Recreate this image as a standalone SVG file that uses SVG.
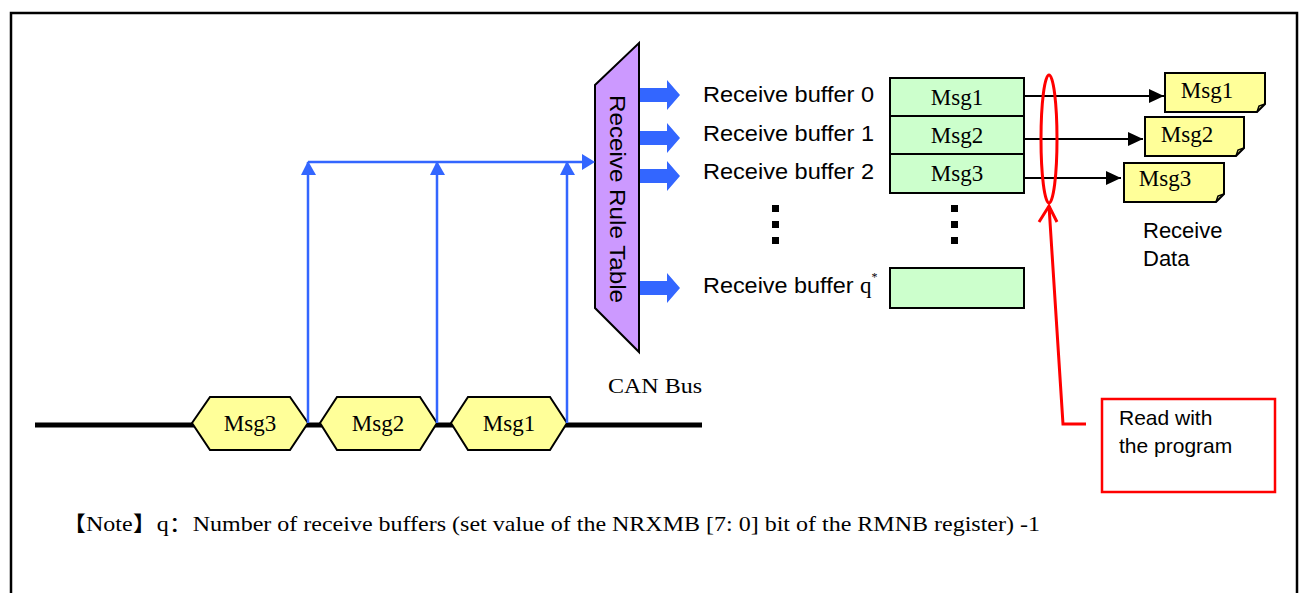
<svg xmlns="http://www.w3.org/2000/svg" width="1300" height="593" viewBox="0 0 1300 593">
<defs>
<style>
.sans{font-family:"Liberation Sans",Arial,sans-serif;fill:#000}
.serif{font-family:"Liberation Serif","Times New Roman",serif;fill:#000}
.blue{stroke:#3366FF;stroke-width:2.5;fill:none}
.bluefill{fill:#3366FF}
.blk{stroke:#000;stroke-width:2;fill:none}
.red{stroke:#FF0000;stroke-width:3;fill:none}
.green{fill:#CCFFCC;stroke:#000;stroke-width:2}
.yellow{fill:#FFFF99;stroke:#000;stroke-width:2}
</style>
<marker id="bk" markerWidth="16" markerHeight="14" refX="15" refY="7" orient="auto" markerUnits="userSpaceOnUse">
<path d="M0,0 L15,7 L0,14 Z" fill="#000"/>
</marker>
</defs>
<rect x="0" y="0" width="1300" height="593" fill="#fff"/>
<rect x="11" y="13" width="1286" height="600" fill="none" stroke="#000" stroke-width="2.5"/>

<g id="can-bus">
<line x1="35" y1="425" x2="702" y2="425" stroke="#000" stroke-width="5"/>
<text class="serif" x="608" y="393" font-size="22" textLength="94" lengthAdjust="spacingAndGlyphs">CAN Bus</text>
</g>

<g id="bus-msg3">
<polygon class="yellow" points="192,423 210,397 290,397 308,423 290,450 210,450"/>
<text class="serif" x="250" y="431" font-size="23" text-anchor="middle">Msg3</text>
</g>
<g id="bus-msg2">
<polygon class="yellow" points="320,423 337,397 420,397 437,423 420,450 337,450"/>
<text class="serif" x="378" y="431" font-size="23" text-anchor="middle">Msg2</text>
</g>
<g id="bus-msg1">
<polygon class="yellow" points="451,423 468,397 550,397 567,423 550,450 468,450"/>
<text class="serif" x="509" y="431" font-size="23" text-anchor="middle">Msg1</text>
</g>

<g id="rule-table">
<polygon points="595,85 639,43 639,352 595,308" fill="#CC99FF" stroke="#000" stroke-width="2"/>
<text class="sans" transform="translate(610,199) rotate(90)" font-size="22" text-anchor="middle" textLength="208" lengthAdjust="spacingAndGlyphs">Receive Rule Table</text>
</g>

<g id="connectors">
<g id="bus-to-table">
<line class="blue" x1="308" y1="423" x2="308" y2="162"/>
<line class="blue" x1="437" y1="423" x2="437" y2="162"/>
<line class="blue" x1="567" y1="423" x2="567" y2="162"/>
<line class="blue" x1="308" y1="162" x2="584" y2="162"/>
<polygon class="bluefill" points="308,161 301,175 316,175"/>
<polygon class="bluefill" points="437,161 430,175 445,175"/>
<polygon class="bluefill" points="567,161 560,175 575,175"/>
<polygon class="bluefill" points="595,162 582,154 582,170"/>
</g>
<g id="table-to-buffers">
<polygon class="bluefill" points="640,88 667,88 667,80 680,95 667,110 667,102 640,102"/>
<polygon class="bluefill" points="640,131 667,131 667,123 680,138 667,153 667,145 640,145"/>
<polygon class="bluefill" points="640,169 667,169 667,161 680,176 667,191 667,183 640,183"/>
<polygon class="bluefill" points="640,281 667,281 667,273 680,288 667,303 667,295 640,295"/>
</g>
<g id="buffers-to-data">
<line class="blk" x1="1024" y1="96" x2="1164" y2="96" marker-end="url(#bk)"/>
<line class="blk" x1="1024" y1="139" x2="1143" y2="139" marker-end="url(#bk)"/>
<line class="blk" x1="1024" y1="178" x2="1121" y2="178" marker-end="url(#bk)"/>
</g>
<g id="callout-line">
<polyline class="red" points="1086,424 1063,424 1049,206"/>
<polyline class="red" points="1039,222 1049,206 1057,222"/>
</g>
</g>

<g id="buffer-labels">
<text class="sans" x="703" y="102" font-size="22" textLength="171" lengthAdjust="spacingAndGlyphs">Receive buffer 0</text>
<text class="sans" x="703" y="141" font-size="22" textLength="171" lengthAdjust="spacingAndGlyphs">Receive buffer 1</text>
<text class="sans" x="703" y="179" font-size="22" textLength="171" lengthAdjust="spacingAndGlyphs">Receive buffer 2</text>
<text x="703" y="293" font-size="22"><tspan class="sans" textLength="157" lengthAdjust="spacingAndGlyphs">Receive buffer </tspan><tspan class="serif" font-size="23">q</tspan><tspan class="serif" font-size="12" dy="-12">*</tspan></text>
<rect x="772" y="205" width="7" height="7" fill="#000"/>
<rect x="772" y="221" width="7" height="7" fill="#000"/>
<rect x="772" y="237" width="7" height="7" fill="#000"/>
</g>

<g id="buffer-0">
<rect class="green" x="890" y="78" width="134" height="38"/>
<text class="serif" x="957" y="105" font-size="23" text-anchor="middle">Msg1</text>
</g>
<g id="buffer-1">
<rect class="green" x="890" y="116" width="134" height="38"/>
<text class="serif" x="957" y="143" font-size="23" text-anchor="middle">Msg2</text>
</g>
<g id="buffer-2">
<rect class="green" x="890" y="154" width="134" height="39"/>
<text class="serif" x="957" y="181" font-size="23" text-anchor="middle">Msg3</text>
</g>
<g id="buffer-dots">
<rect x="951" y="205" width="7" height="7" fill="#000"/>
<rect x="951" y="221" width="7" height="7" fill="#000"/>
<rect x="951" y="237" width="7" height="7" fill="#000"/>
</g>
<g id="buffer-q">
<rect class="green" x="890" y="268" width="134" height="40"/>
</g>

<g id="read-ellipse">
<ellipse class="red" cx="1049" cy="139" rx="8" ry="64"/>
</g>

<g id="data-msg1">
<path class="yellow" d="M1165,73 H1265 V104 L1257,112 H1165 Z"/>
<path d="M1257,112 L1259,106 L1265,104" fill="none" stroke="#000" stroke-width="1.5"/>
<text class="serif" x="1207" y="98" font-size="23" text-anchor="middle">Msg1</text>
</g>
<g id="data-msg2">
<path class="yellow" d="M1145,117 H1244 V148 L1236,156 H1145 Z"/>
<path d="M1236,156 L1238,150 L1244,148" fill="none" stroke="#000" stroke-width="1.5"/>
<text class="serif" x="1187" y="142" font-size="23" text-anchor="middle">Msg2</text>
</g>
<g id="data-msg3">
<path class="yellow" d="M1124,163 H1224 V194 L1216,202 H1124 Z"/>
<path d="M1216,202 L1218,196 L1224,194" fill="none" stroke="#000" stroke-width="1.5"/>
<text class="serif" x="1165" y="186" font-size="23" text-anchor="middle">Msg3</text>
</g>
<g id="receive-data-label">
<text class="sans" x="1143" y="238" font-size="22">Receive</text>
<text class="sans" x="1143" y="266" font-size="22">Data</text>
</g>

<g id="read-callout">
<rect x="1102" y="399" width="173" height="93" fill="#fff" stroke="#FF0000" stroke-width="2.5"/>
<text class="sans" x="1119" y="425" font-size="21">Read with</text>
<text class="sans" x="1119" y="453" font-size="21">the program</text>
</g>

<g id="note">
<text x="62" y="531" font-size="21" font-family="'Liberation Serif','Noto Sans CJK SC',serif" textLength="978" lengthAdjust="spacingAndGlyphs">【Note】q：Number of receive buffers (set value of the NRXMB [7: 0] bit of the RMNB register) -1</text>
</g>
</svg>
